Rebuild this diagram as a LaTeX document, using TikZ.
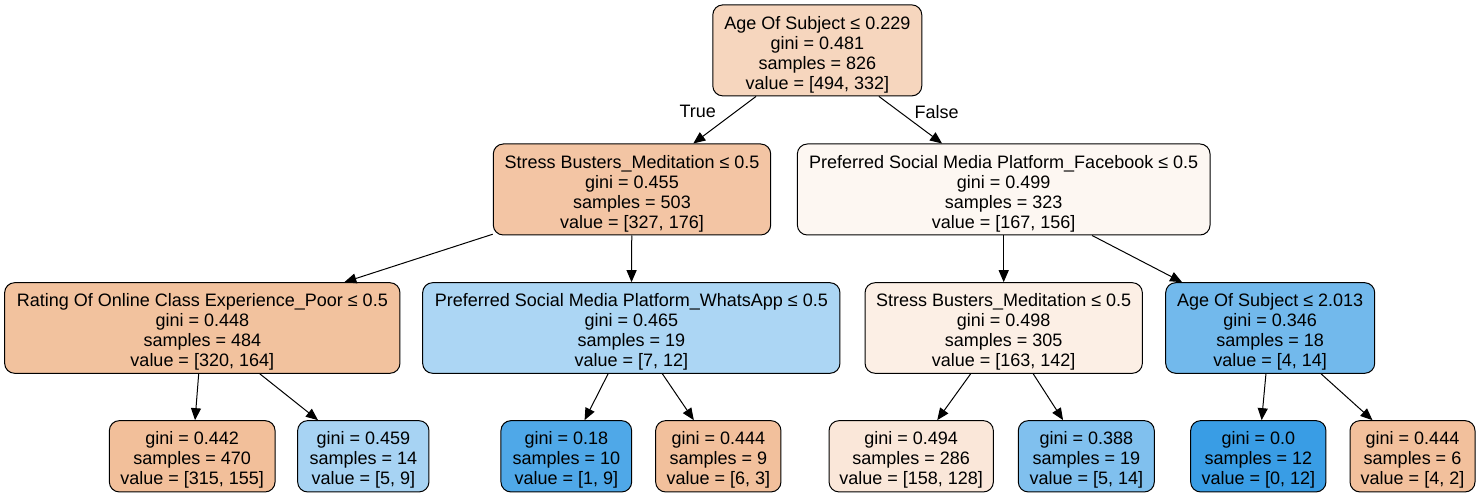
\documentclass[tikz,border=0pt]{standalone}
\usepackage{fontspec}
\setmainfont{Liberation Sans}
\usetikzlibrary{arrows.meta}
\definecolor{corange}{RGB}{229,129,57}
\definecolor{cblue}{RGB}{57,157,229}
\newcommand\tstrut{\rule{0pt}{21pt}}
\tikzset{
  treenode/.style={draw=black, line width=1pt, rounded corners=10pt, inner sep=0pt,
    align=center, font=\fontsize{18}{20}\selectfont},
  splitbox/.style={treenode, minimum height=91pt},
  leafbox/.style={treenode, minimum height=71.3pt},
  edge/.style={draw=black, line width=1pt, -{Triangle[length=12pt,width=10pt]}},
  elabel/.style={font=\fontsize{18}{20}\selectfont, inner sep=0pt}
}
\begin{document}
\begin{tikzpicture}[x=1pt,y=-1pt]
\useasboundingbox (0,0) rectangle (1481,497);
% level 0
\node[splitbox, minimum width=209pt, fill=corange!32.8!white] (n0) at (817.3,50.4)
  {\tstrut Age Of Subject ≤ 0.229\\gini = 0.481\\samples = 826\\value = [494, 332]};
% level 1
\node[splitbox, minimum width=277.4pt, fill=corange!46.2!white] (n1) at (632,189.5)
  {\tstrut Stress Busters\_Meditation ≤ 0.5\\gini = 0.455\\samples = 503\\value = [327, 176]};
\node[splitbox, minimum width=412.7pt, fill=corange!6.6!white] (n8) at (1003.7,189.5)
  {\tstrut Preferred Social Media Platform\_Facebook ≤ 0.5\\gini = 0.499\\samples = 323\\value = [167, 156]};
% level 2
\node[splitbox, minimum width=395.3pt, minimum height=90.6pt, fill=corange!48.75!white] (n2) at (202.3,328)
  {\tstrut Rating Of Online Class Experience\_Poor ≤ 0.5\\gini = 0.448\\samples = 484\\value = [320, 164]};
\node[splitbox, minimum width=417.3pt, minimum height=90.6pt, fill=cblue!41.7!white] (n5) at (631.3,328)
  {\tstrut Preferred Social Media Platform\_WhatsApp ≤ 0.5\\gini = 0.465\\samples = 19\\value = [7, 12]};
\node[splitbox, minimum width=277.3pt, minimum height=90.6pt, fill=corange!12.9!white] (n9) at (1003.7,328)
  {\tstrut Stress Busters\_Meditation ≤ 0.5\\gini = 0.498\\samples = 305\\value = [163, 142]};
\node[splitbox, minimum width=209pt, minimum height=90.6pt, fill=cblue!71.4!white] (n12) at (1270.2,328)
  {\tstrut Age Of Subject ≤ 2.013\\gini = 0.346\\samples = 18\\value = [4, 14]};
% leaves
\node[leafbox, minimum width=165.7pt, fill=corange!50.8!white] (n3) at (192.2,456.3)
  {\tstrut gini = 0.442\\samples = 470\\value = [315, 155]};
\node[leafbox, minimum width=131.3pt, fill=cblue!44.4!white] (n4) at (363.3,456.3)
  {\tstrut gini = 0.459\\samples = 14\\value = [5, 9]};
\node[leafbox, minimum width=130.7pt, fill=cblue!88.9!white] (n6) at (566.3,456.3)
  {\tstrut gini = 0.18\\samples = 10\\value = [1, 9]};
\node[leafbox, minimum width=125.3pt, fill=corange!50!white] (n7) at (718.3,456.3)
  {\tstrut gini = 0.444\\samples = 9\\value = [6, 3]};
\node[leafbox, minimum width=164.3pt, fill=corange!19!white] (n10) at (911.2,456.3)
  {\tstrut gini = 0.494\\samples = 286\\value = [158, 128]};
\node[leafbox, minimum width=136pt, fill=cblue!64.3!white] (n11) at (1086.3,456.3)
  {\tstrut gini = 0.388\\samples = 19\\value = [5, 14]};
\node[leafbox, minimum width=135.3pt, fill=cblue] (n13) at (1258.3,456.3)
  {\tstrut gini = 0.0\\samples = 12\\value = [0, 12]};
\node[leafbox, minimum width=125pt, fill=corange!50!white] (n14) at (1412.5,456.3)
  {\tstrut gini = 0.444\\samples = 6\\value = [4, 2]};
% edges
\draw[edge] (n0) -- (n1);
\draw[edge] (n0) -- (n8);
\draw[edge] (n1) -- (n2);
\draw[edge] (n1) -- (n5);
\draw[edge] (n2) -- (n3);
\draw[edge] (n2) -- (n4);
\draw[edge] (n5) -- (n6);
\draw[edge] (n5) -- (n7);
\draw[edge] (n8) -- (n9);
\draw[edge] (n8) -- (n12);
\draw[edge] (n9) -- (n10);
\draw[edge] (n9) -- (n11);
\draw[edge] (n12) -- (n13);
\draw[edge] (n12) -- (n14);
% edge labels
\node[elabel] (ltrue) at (697.7,111.7) {True};
\node[elabel] (lfalse) at (936.7,111.7) {False};
\end{tikzpicture}
\end{document}
